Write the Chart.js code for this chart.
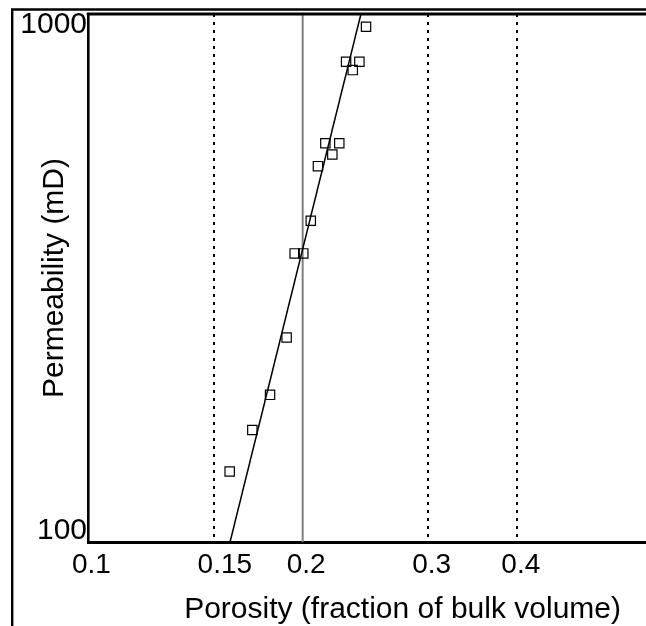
<!DOCTYPE html>
<html>
<head>
<meta charset="utf-8">
<script src="https://cdn.jsdelivr.net/npm/chart.js@4/dist/chart.umd.min.js"></script>
<style>
  html, body { margin: 0; padding: 0; background: #fff; }
  canvas { display: block; }
</style>
</head>
<body>
<canvas id="c" width="646" height="626"></canvas>
<script>
// ---- data ----
const porosity = [0.2454, 0.2301, 0.2402, 0.2351, 0.2152, 0.2251, 0.2201, 0.2101, 0.2053, 0.1949, 0.2004, 0.1899, 0.1800, 0.1700, 0.1580];
const permeability = [946, 812, 812, 783, 569, 569, 542, 515, 406, 352, 352, 244, 190, 163, 136];
const fitPorosity = [0.1582, 0.2414];
const fitPermeability = [100, 1000];
const cutoffPorosity = [0.2, 0.2];
const cutoffPermeability = [100, 1000];
const xTickValues = [0.1, 0.15, 0.2, 0.3, 0.4];
const dottedGridValues = [0.15, 0.3, 0.4];
const yTickValues = [100, 1000];
const xRange = [0.1, 0.606];
const yRange = [100, 1000];
const xTitle = 'Porosity (fraction of bulk volume)';
const yTitle = 'Permeability (mD)';

const FONT = '"Liberation Sans", Arial, Helvetica, sans-serif';
Chart.defaults.font.family = FONT;
Chart.defaults.color = '#000';

const pts = porosity.map((x, i) => ({ x: x, y: permeability[i] }));
const fit = fitPorosity.map((x, i) => ({ x: x, y: fitPermeability[i] }));
const cutoff = cutoffPorosity.map((x, i) => ({ x: x, y: cutoffPermeability[i] }));

const framePlugin = {
  id: 'frame',
  beforeDraw(chart) {
    const ctx = chart.ctx;
    ctx.save();
    ctx.fillStyle = '#fff';
    ctx.fillRect(0, 0, chart.width, chart.height);
    ctx.strokeStyle = '#000';
    ctx.lineWidth = 2.4;
    ctx.beginPath();
    ctx.moveTo(11, 9.5);
    ctx.lineTo(chart.width, 9.5);
    ctx.moveTo(12.2, 8.3);
    ctx.lineTo(12.2, chart.height);
    ctx.stroke();
    ctx.restore();
  },
  afterDraw(chart) {
    const a = chart.chartArea;
    const ctx = chart.ctx;
    ctx.save();
    ctx.strokeStyle = '#000';
    ctx.lineWidth = 3;
    ctx.beginPath();
    ctx.moveTo(a.left - 1.3, a.top);
    ctx.lineTo(a.right, a.top);
    ctx.stroke();
    ctx.restore();
  }
};

new Chart(document.getElementById('c'), {
  type: 'scatter',
  data: {
    datasets: [
      {
        label: 'Samples',
        data: pts,
        pointStyle: 'rect',
        pointRadius: 6.6,
        borderWidth: 1.2,
        borderColor: '#000',
        backgroundColor: 'rgba(0,0,0,0)'
      },
      {
        label: 'Fit',
        data: fit,
        showLine: true,
        borderColor: '#000',
        borderWidth: 1.5,
        pointRadius: 0
      },
      {
        label: 'Cutoff',
        data: cutoff,
        showLine: true,
        borderColor: '#808080',
        borderWidth: 2,
        pointRadius: 0
      }
    ]
  },
  options: {
    responsive: false,
    animation: false,
    devicePixelRatio: 1,
    layout: { autoPadding: false, padding: { top: 14, left: 0, right: 0, bottom: 0 } },
    plugins: { legend: { display: false }, tooltip: { enabled: false } },
    scales: {
      x: {
        type: 'logarithmic',
        position: 'bottom',
        min: xRange[0],
        max: xRange[1],
        bounds: 'data',
        afterBuildTicks: s => { s.ticks = xTickValues.map(v => ({ value: v })); },
        afterFit: s => { s.height = 84; s.paddingLeft = 0; s.paddingRight = 0; s.paddingTop = 0; s.paddingBottom = 0; },
        grid: {
          drawTicks: false,
          lineWidth: 2,
          color: c => (c.tick && dottedGridValues.includes(c.tick.value)) ? '#000' : 'rgba(0,0,0,0)'
        },
        border: { display: true, color: '#000', width: 3, dash: [3, 5] },
        ticks: {
          autoSkip: false,
          maxRotation: 0,
          minRotation: 0,
          align: 'start',
          labelOffset: -16,
          padding: 6,
          color: '#000',
          font: { size: 28 },
          callback: v => String(v)
        },
        title: {
          display: true,
          text: xTitle + '\u00a0\u00a0\u00a0',
          align: 'end',
          color: '#000',
          font: { size: 30, lineHeight: 1 },
          padding: { top: 0, bottom: 1.4 }
        }
      },
      y: {
        type: 'logarithmic',
        position: 'left',
        min: yRange[0],
        max: yRange[1],
        bounds: 'data',
        afterBuildTicks: s => { s.ticks = yTickValues.map(v => ({ value: v })); },
        afterFit: s => { s.width = 88; s.paddingTop = 0; s.paddingBottom = 0; s.paddingLeft = 0; s.paddingRight = 0; },
        grid: { display: false, drawTicks: false },
        border: { display: true, color: '#000', width: 2.6 },
        ticks: {
          padding: 1,
          color: '#000',
          font: { size: 30, lineHeight: 0.73 },
          callback: (v, i, ticks) => {
            const t = String(v);
            if (i === 0) return [t, ''];
            if (i === ticks.length - 1) return ['', t];
            return t;
          }
        },
        title: {
          display: true,
          text: yTitle,
          color: '#000',
          font: { size: 30, lineHeight: 1 },
          padding: { top: 40, bottom: 0 }
        }
      }
    }
  },
  plugins: [framePlugin]
});
</script>
</body>
</html>
